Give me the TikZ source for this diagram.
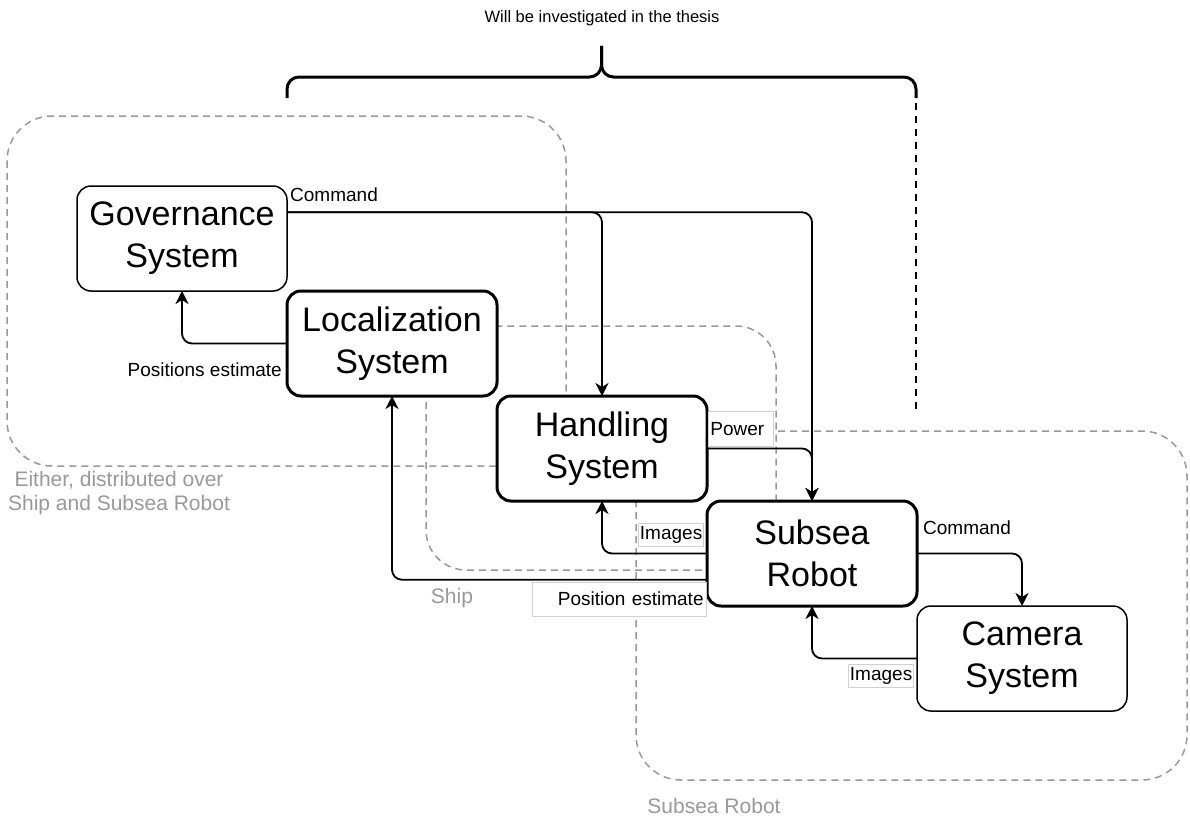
\documentclass[tikz,border=0pt]{standalone}
\usepackage{fontspec}
\setmainfont{Liberation Sans}
\usetikzlibrary{arrows.meta,positioning,calc}
\definecolor{areagray}{HTML}{999999}
\definecolor{labelline}{HTML}{D0D0D0}

\begin{document}
\begin{tikzpicture}[
	x=1pt,y=-1pt,
	box/.style={draw,rectangle,fill=white,minimum width=210pt,minimum height=105pt,rounded corners=14pt,line width=1.5pt,inner sep=0pt,outer sep=0pt,align=center,font=\fontsize{34}{42}\selectfont},
	bold/.style={line width=3pt},
	area/.style={draw=areagray,dash pattern=on 7pt off 5pt,line width=1.5pt,rounded corners=45pt},
	arealabel/.style={text=areagray,align=center,font=\fontsize{21}{24}\selectfont},
	flow/.style={-{Stealth[length=13pt,width=13pt,inset=4pt]},line width=1.8pt,rounded corners=10pt},
	lbl/.style={fill=white,inner sep=1pt,font=\fontsize{19}{22}\selectfont},
	lblbox/.style={lbl,draw=labelline,line width=0.8pt}
	]
	\useasboundingbox (0,0) rectangle (1190,816);
	
	% Bereiche
	\draw[area] (7,116) rectangle (566,466);
	\draw[area,rounded corners=40pt] (426,326) rectangle (776,570);
	\draw[area] (636,431) rectangle (1187,780);
	\node[arealabel] (either) at (119,493) {Either, distributed over\\Ship and Subsea Robot};
	\node[arealabel] (ship) at (452,598) {Ship};
	\node[arealabel] (robotarea) at (714,806) {Subsea Robot};
	
	% Systeme
	\node[box] (gov) at (182,238.5) {Governance\\System};
	\node[box,bold,below right=0pt and 0pt of gov] (loc) {Localization\\System};
	\node[box,bold,below right=0pt and 0pt of loc] (hand) {Handling\\System};
	\node[box,bold,below right=0pt and 0pt of hand] (sub) {Subsea\\Robot};
	\node[box,below right=0pt and 0pt of sub] (cam) {Camera\\System};
	
	% Klammer oben
	\node[font=\fontsize{16.5}{19}\selectfont] (thesis) at (602,18) {Will be investigated in the thesis};
	\coordinate (bl) at (287,98);
	\coordinate (br) at (916,98);
	\coordinate (bmid) at (601.5,77);
	\coordinate (btip) at (601.5,46);
	\draw[line width=3pt,rounded corners=12pt] (bl) |- (bmid) -- (btip);
	\draw[line width=3pt,rounded corners=12pt] (br) |- (bmid) -- (btip);
	\coordinate (scopetop) at (916,103);
	\coordinate (scopebot) at (916,413);
	\draw[line width=2pt,dash pattern=on 7pt off 6pt] (scopetop) -- (scopebot);
	
	% Verbindungen
	\coordinate (govout) at ($(gov.north east)!0.25!(gov.south east)$);
	\coordinate (subout) at ($(sub.north west)!0.75!(sub.south west)$);
	\draw[flow] (govout) -| (hand.north);
	\draw[flow] (govout) -| (sub.north);
	\draw[flow] (loc.west) -| (gov.south);
	\draw[flow] (hand.east) -| (sub.north);
	\draw[flow] (sub.west) -| (hand.south);
	\draw[flow] (subout) -| (loc.south);
	\draw[flow] (sub.east) -| (cam.north);
	\draw[flow] (cam.west) -| (sub.south);
	
	% Beschriftungen
	\node[lbl,anchor=west,xshift=2pt,yshift=17.5pt] (cmdgov) at (govout) {Command};
	\node[lbl,anchor=east,xshift=-4pt,yshift=-26pt] (posest) at (loc.west) {Positions estimate};
	\node[lblbox,anchor=south west,xshift=1pt,yshift=1.5pt,inner xsep=2pt,text width=61pt,align=left,minimum height=35pt] (power) at (hand.east) {Power};
	\node[lblbox,anchor=south east,xshift=-3pt,yshift=6.5pt,minimum width=65pt,minimum height=23pt] (imghand) at (sub.west) {Images};
	\node[lblbox,anchor=north east,yshift=-2pt,inner xsep=3pt,text width=168pt,align=right,minimum height=34pt] (posbox) at (subout) {Position estimate};
	\node[lbl,anchor=west,xshift=5pt,yshift=26pt] (cmdcam) at (sub.east) {Command};
	\node[lblbox,anchor=north east,xshift=-3pt,yshift=-5.5pt,minimum width=65pt,minimum height=23pt] (imgcam) at (cam.west) {Images};
	
\end{tikzpicture}
\end{document}
